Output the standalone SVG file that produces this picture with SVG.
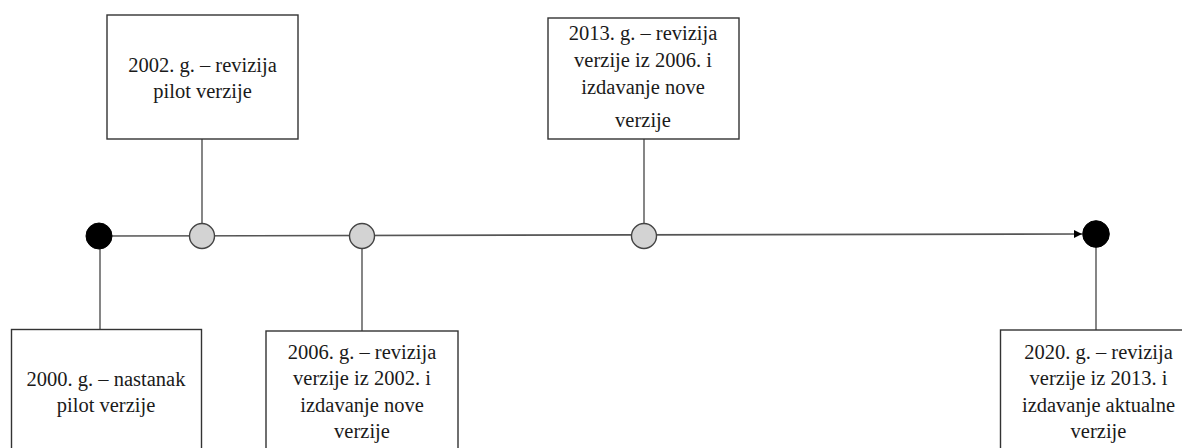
<svg xmlns="http://www.w3.org/2000/svg" width="1182" height="448" viewBox="0 0 1182 448">
<style>
.box{fill:#fff;stroke:#333;stroke-width:1.4}
.t{font-family:"Liberation Serif","Times New Roman",serif;font-size:20.5px;fill:#1a1a1a;text-anchor:middle}
.conn{stroke:#444;stroke-width:1.3;fill:none}
.main{stroke:#555;stroke-width:1.6;fill:none}
.dot{fill:#000;stroke:#000;stroke-width:1}
.mile{fill:#d3d3d3;stroke:#444;stroke-width:1.4}
</style>
<defs>
<marker id="arr" markerWidth="10" markerHeight="10" refX="9" refY="5" orient="auto" markerUnits="userSpaceOnUse">
<path d="M1,1 L9,5 L1,9 Z" fill="#000"/>
</marker>
</defs>
<rect width="1182" height="448" fill="#fff"/>
<g id="connectors">
<line class="main" x1="99" y1="236" x2="1082" y2="234" marker-end="url(#arr)"/>
<line class="conn" x1="202" y1="139" x2="202" y2="223"/>
<line class="conn" x1="100" y1="249" x2="100" y2="329"/>
<line class="conn" x1="362" y1="248" x2="362" y2="331"/>
<line class="conn" x1="644" y1="139" x2="644" y2="223"/>
<line class="conn" x1="1096" y1="247" x2="1096" y2="330"/>
</g>
<g id="start"><circle class="dot" cx="99" cy="236" r="13"/></g>
<g id="m2002"><circle class="mile" cx="202" cy="236" r="12.5"/></g>
<g id="m2006"><circle class="mile" cx="362" cy="236" r="12.5"/></g>
<g id="m2013"><circle class="mile" cx="644" cy="236" r="12.5"/></g>
<g id="end"><circle class="dot" cx="1096" cy="234" r="13.3"/></g>
<g id="n2002">
<rect class="box" x="107" y="15" width="191" height="124"/>
<text class="t" x="202.5" y="72">2002. g. – revizija</text>
<text class="t" x="202.5" y="98">pilot verzije</text>
</g>
<g id="n2013">
<rect class="box" x="548" y="18" width="191" height="121"/>
<text class="t" x="643" y="40">2013. g. – revizija</text>
<text class="t" x="643" y="67">verzije iz 2006. i</text>
<text class="t" x="643" y="94">izdavanje nove</text>
<text class="t" x="643" y="127">verzije</text>
</g>
<g id="n2000">
<rect class="box" x="11.5" y="329.5" width="190" height="130"/>
<text class="t" x="106" y="386">2000. g. – nastanak</text>
<text class="t" x="106" y="412">pilot verzije</text>
</g>
<g id="n2006">
<rect class="box" x="266" y="331" width="192" height="130"/>
<text class="t" x="362" y="358.5">2006. g. – revizija</text>
<text class="t" x="362" y="385">verzije iz 2002. i</text>
<text class="t" x="362" y="411.5">izdavanje nove</text>
<text class="t" x="362" y="438">verzije</text>
</g>
<g id="n2020">
<rect class="box" x="1000.5" y="330" width="192" height="130"/>
<text class="t" x="1098.5" y="358.5">2020. g. – revizija</text>
<text class="t" x="1098.5" y="385">verzije iz 2013. i</text>
<text class="t" x="1098.5" y="411.5">izdavanje aktualne</text>
<text class="t" x="1098.5" y="438">verzije</text>
</g>
</svg>
